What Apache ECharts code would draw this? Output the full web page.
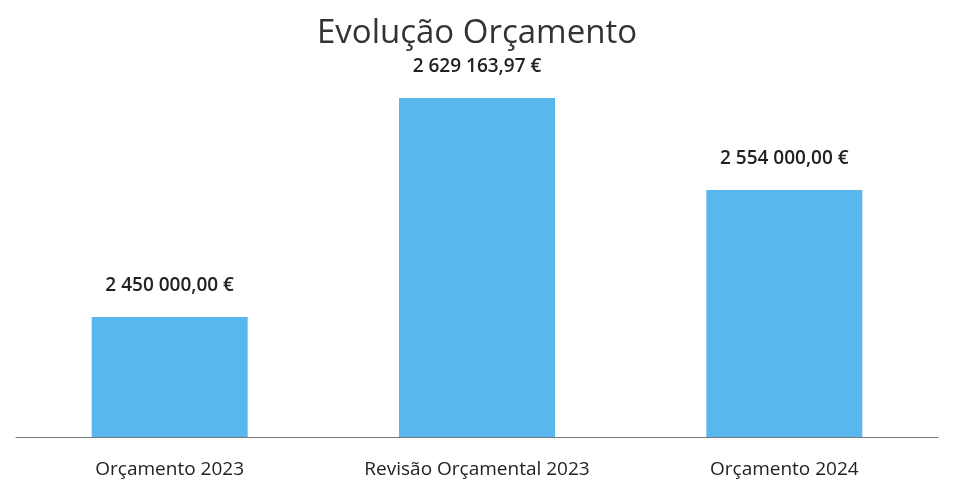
<!DOCTYPE html>
<html><head><meta charset="utf-8">
<script src="https://cdn.jsdelivr.net/npm/echarts@6/dist/echarts.min.js"></script>
<style>html,body{margin:0;padding:0;background:#fff}#c{width:954px;height:485px}</style>
</head><body><div id="c"></div>
<script>
const categories = ['Orçamento 2023', 'Revisão Orçamental 2023', 'Orçamento 2024'];
const values = [2450000.00, 2629163.97, 2554000.00];
const titleText = 'Evolução Orçamento';

function fmt(v) {
  const parts = v.toFixed(2).split('.');
  const intPart = parts[0].replace(/\B(?=(\d{3})+(?!\d))/g, ' ');
  return intPart + ',' + parts[1] + ' €';
}

const chart = echarts.init(document.getElementById('c'));
chart.setOption({
  animation: false,
  backgroundColor: '#ffffff',
  title: {
    text: titleText, left: 'center', top: 12,
    textStyle: { fontFamily: 'Open Sans', fontWeight: 'normal', fontSize: 33, color: '#333' }
  },
  grid: { left: 16, right: 16, top: 70, bottom: 48 },
  xAxis: {
    type: 'category', data: categories,
    axisLine: { lineStyle: { color: '#777', width: 1 } },
    axisTick: { show: false },
    axisLabel: { interval: 0, hideOverlap: false, margin: 23, fontFamily: 'Open Sans', fontSize: 19, color: '#222' }
  },
  yAxis: {
    type: 'value', min: 2352000, max: 2652000, show: false,
    splitLine: { show: false }
  },
  series: [{
    type: 'bar', data: values, barWidth: 156,
    itemStyle: { color: '#58b8ee' },
    label: {
      show: true, position: 'top', distance: 22,
      formatter: p => fmt(p.value),
      fontFamily: 'Open Sans', fontSize: 19, fontWeight: 600, color: '#222'
    }
  }]
});
</script></body></html>
